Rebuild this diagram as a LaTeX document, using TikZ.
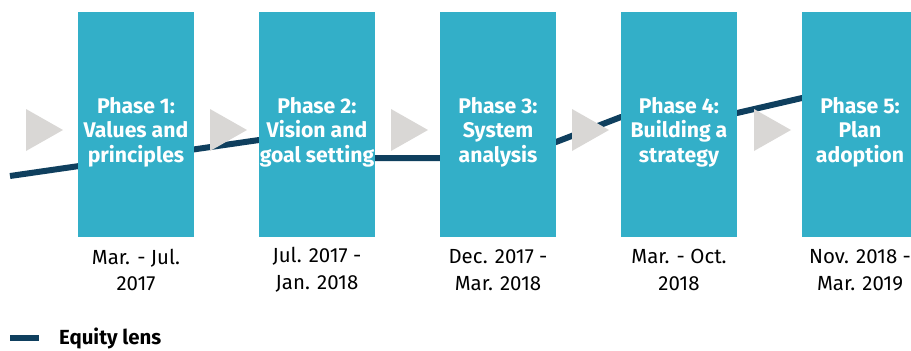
\documentclass[tikz,border=0pt]{standalone}
\usepackage{fontspec}
\setmainfont{Fira Sans}
\definecolor{PhaseBlue}{HTML}{33AFC8}
\definecolor{LensBlue}{HTML}{0F3F5E}
\definecolor{TriGrey}{HTML}{D9D7D5}

\begin{document}
\begin{tikzpicture}[x=1bp, y=-1bp, inner sep=0pt,
    phase/.style={fill=PhaseBlue, minimum width=116bp, minimum height=225bp},
    title/.style={text=white, align=center, font=\bfseries\fontsize{21.3}{24.5}\selectfont},
    date/.style={align=center, font=\fontsize{20.5}{27}\selectfont},
    tri/.style={fill=TriGrey},
    lens/.style={draw=LensBlue, line width=6bp}]
  \clip (0,0) rectangle (911,350);

  % equity lens, behind the boxes
  \draw[lens] (10,176) -- (259,140) -- (375,158) -- (440,158) -- (556,142)
              -- (621,117) -- (737,113) -- (802,98) -- (860,90);

  % phase boxes
  \path node (P1) at (136,124.5) [phase] {}
        node (P2) at (317,124.5) [phase] {}
        node (P3) at (498,124.5) [phase] {}
        node (P4) at (679,124.5) [phase] {}
        node (P5) at (860,124.5) [phase] {};

  % arrows in front
  \fill[tri] (26,109)  -- (63,130)  -- (26,151)  -- cycle;
  \fill[tri] (210,109) -- (247,130) -- (210,151) -- cycle;
  \fill[tri] (391,109) -- (428,130) -- (391,151) -- cycle;
  \fill[tri] (572,109) -- (609,130) -- (572,151) -- cycle;
  \fill[tri] (754,109) -- (791,130) -- (754,151) -- cycle;

  % titles
  \path node (P1t) at (136,132) [title] {Phase 1:\\Values and\\principles}
        node (P2t) at (317,132) [title] {Phase 2:\\Vision and\\goal setting}
        node (P3t) at (498,132) [title] {Phase 3:\\System\\analysis}
        node (P4t) at (679,132) [title] {Phase 4:\\Building a\\strategy}
        node (P5t) at (860,132) [title] {Phase 5:\\Plan\\adoption};

  % dates
  \path node (D1) at (136,270) [date] {Mar. - Jul.\\2017}
        node (D2) at (317,270) [date] {Jul. 2017 -\\Jan. 2018}
        node (D3) at (498,270) [date] {Dec. 2017 -\\Mar. 2018}
        node (D4) at (679,270) [date] {Mar. - Oct.\\2018}
        node (D5) at (860,270) [date] {Nov. 2018 -\\Mar. 2019};

  % legend
  \draw[lens] (10,338) -- (39,338);
  \node (L) at (59,338) [anchor=west, font=\bfseries\fontsize{20.5}{22}\selectfont] {Equity lens};
\end{tikzpicture}
\end{document}
